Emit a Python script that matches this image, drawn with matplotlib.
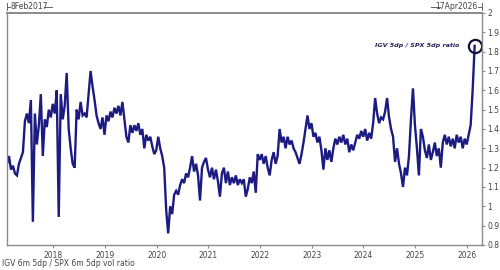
import matplotlib
matplotlib.use("Agg")
import matplotlib.pyplot as plt
from matplotlib.lines import Line2D
import pandas as pd

start_date = "2017-02-08"
last_data_date = "2026-02-24"
axis_end_date = "2026-04-17"

ratio = [
    1.22, 1.26, 1.19, 1.21, 1.17, 1.16, 1.22, 1.25, 1.28, 1.44,
    1.48, 1.43, 1.55, 0.92, 1.48, 1.32, 1.42, 1.58, 1.26, 1.45,
    1.41, 1.50, 1.46, 1.53, 1.48, 1.60, 0.945, 1.58, 1.45, 1.52,
    1.69, 1.40, 1.30, 1.22, 1.20, 1.50, 1.45, 1.54, 1.47, 1.48,
    1.46, 1.58, 1.70, 1.62, 1.55, 1.47, 1.43, 1.40, 1.46, 1.37,
    1.47, 1.44, 1.49, 1.46, 1.51, 1.48, 1.52, 1.47, 1.54, 1.45,
    1.36, 1.33, 1.42, 1.38, 1.42, 1.39, 1.43, 1.37, 1.40, 1.30,
    1.37, 1.34, 1.36, 1.31, 1.27, 1.29, 1.36, 1.30, 1.26, 1.20,
    0.98, 0.86, 1.00, 0.96, 1.06, 1.08, 1.06, 1.11, 1.14, 1.12,
    1.17, 1.15, 1.20, 1.26, 1.18, 1.22, 1.16, 1.03, 1.20, 1.23,
    1.25, 1.19, 1.15, 1.20, 1.14, 1.19, 1.13, 1.05, 1.17, 1.20,
    1.12, 1.18, 1.11, 1.15, 1.12, 1.16, 1.11, 1.14, 1.12, 1.14,
    1.05, 1.09, 1.15, 1.12, 1.18, 1.07, 1.27, 1.24, 1.27, 1.22,
    1.26, 1.20, 1.16, 1.24, 1.28, 1.22, 1.26, 1.40, 1.33, 1.36,
    1.30, 1.36, 1.32, 1.34, 1.30, 1.28, 1.25, 1.22, 1.27, 1.33,
    1.40, 1.47, 1.40, 1.43, 1.36, 1.38, 1.33, 1.36, 1.29, 1.19,
    1.30, 1.24, 1.29, 1.23, 1.30, 1.35, 1.32, 1.36, 1.33, 1.37,
    1.32, 1.35, 1.28, 1.32, 1.29, 1.33, 1.37, 1.35, 1.39, 1.36,
    1.40, 1.34, 1.38, 1.35, 1.43, 1.56, 1.48, 1.43, 1.46, 1.45,
    1.49, 1.56, 1.46, 1.40, 1.36, 1.23, 1.30, 1.22, 1.17, 1.10,
    1.20, 1.16, 1.26, 1.45, 1.61, 1.42, 1.30, 1.16, 1.40, 1.36,
    1.29, 1.25, 1.32, 1.24, 1.28, 1.33, 1.26, 1.30, 1.20, 1.33,
    1.37, 1.32, 1.36, 1.31, 1.35, 1.30, 1.37, 1.33, 1.36, 1.30,
    1.35, 1.32, 1.37, 1.42, 1.60, 1.83,
]

year_ticks = ["2018", "2019", "2020", "2021", "2022", "2023", "2024", "2025", "2026"]
y_ticks = [0.8, 0.9, 1.0, 1.1, 1.2, 1.3, 1.4, 1.5, 1.6, 1.7, 1.8, 1.9, 2.0]
y_labels = ["0.8", "0.9", "1", "1.1", "1.2", "1.3", "1.4", "1.5", "1.6", "1.7", "1.8", "1.9", "2"]

series_label = "IGV 5dp / SPX 5dp ratio"
footer = "IGV 6m 5dp / SPX 6m 5dp vol ratio"
start_label = "8Feb2017"
end_label = "17Apr2026"

dates = pd.date_range(start_date, last_data_date, periods=len(ratio))

line_color = "#1b1b82"
grey = "#8a8a8a"
text_grey = "#444444"

fig = plt.figure(figsize=(5, 2.7), dpi=100)
ax = fig.add_axes([7 / 500, 1 - 245 / 270, (482 - 7) / 500, (245 - 13) / 270])

ax.plot(dates, ratio, color=line_color, lw=1.7, solid_joinstyle="miter")
ax.plot(dates[-1:], ratio[-1:], marker="o", ms=9.5, mfc="none", mec="#111133", mew=1.6, ls="none")
ax.annotate(series_label, xy=(dates[-1], ratio[-1]), xytext=(-11, 0),
            textcoords="offset points", ha="right", va="center",
            fontsize=4.6, fontweight="bold", fontstyle="italic", color="#22225e")

ax.set_xlim(pd.Timestamp(start_date), pd.Timestamp(axis_end_date))
ax.set_ylim(0.8, 2.0)

ax.set_xticks([pd.Timestamp(y + "-01-01") for y in year_ticks])
ax.set_xticklabels(year_ticks)
ax.set_yticks(y_ticks)
ax.set_yticklabels(y_labels)

ax.yaxis.tick_right()
ax.tick_params(axis="y", direction="out", length=2.5, width=0.8, color=grey,
               labelsize=5.5, labelcolor=text_grey, pad=1.5)
ax.tick_params(axis="x", direction="out", length=2.5, width=0.8, color=grey,
               labelsize=5.5, labelcolor=text_grey, pad=1.5)

for s in ax.spines.values():
    s.set_color(grey)
    s.set_linewidth(1.0)
ax.spines["top"].set_linewidth(1.4)

def fl(x0, y0, x1, y1):
    fig.add_artist(Line2D([x0 / 500, x1 / 500], [1 - y0 / 270, 1 - y1 / 270],
                          color="#666666", lw=0.7))

fl(7, 3, 7, 10)
fl(7, 6.5, 10, 6.5)
fig.text(10.5 / 500, 1 - 6.5 / 270, start_label, fontsize=5.5, color=text_grey, va="center", ha="left")
fl(44, 6.5, 52, 6.5)

fl(431, 6.5, 440, 6.5)
fig.text(477 / 500, 1 - 6.5 / 270, end_label, fontsize=5.5, color=text_grey, va="center", ha="right")
fl(477.5, 6.5, 482, 6.5)
fl(482, 3, 482, 10)

fig.text(2 / 500, 1 - 263 / 270, footer, fontsize=5.5, color=text_grey, va="center", ha="left")

fig.savefig("out.png", dpi=100)
